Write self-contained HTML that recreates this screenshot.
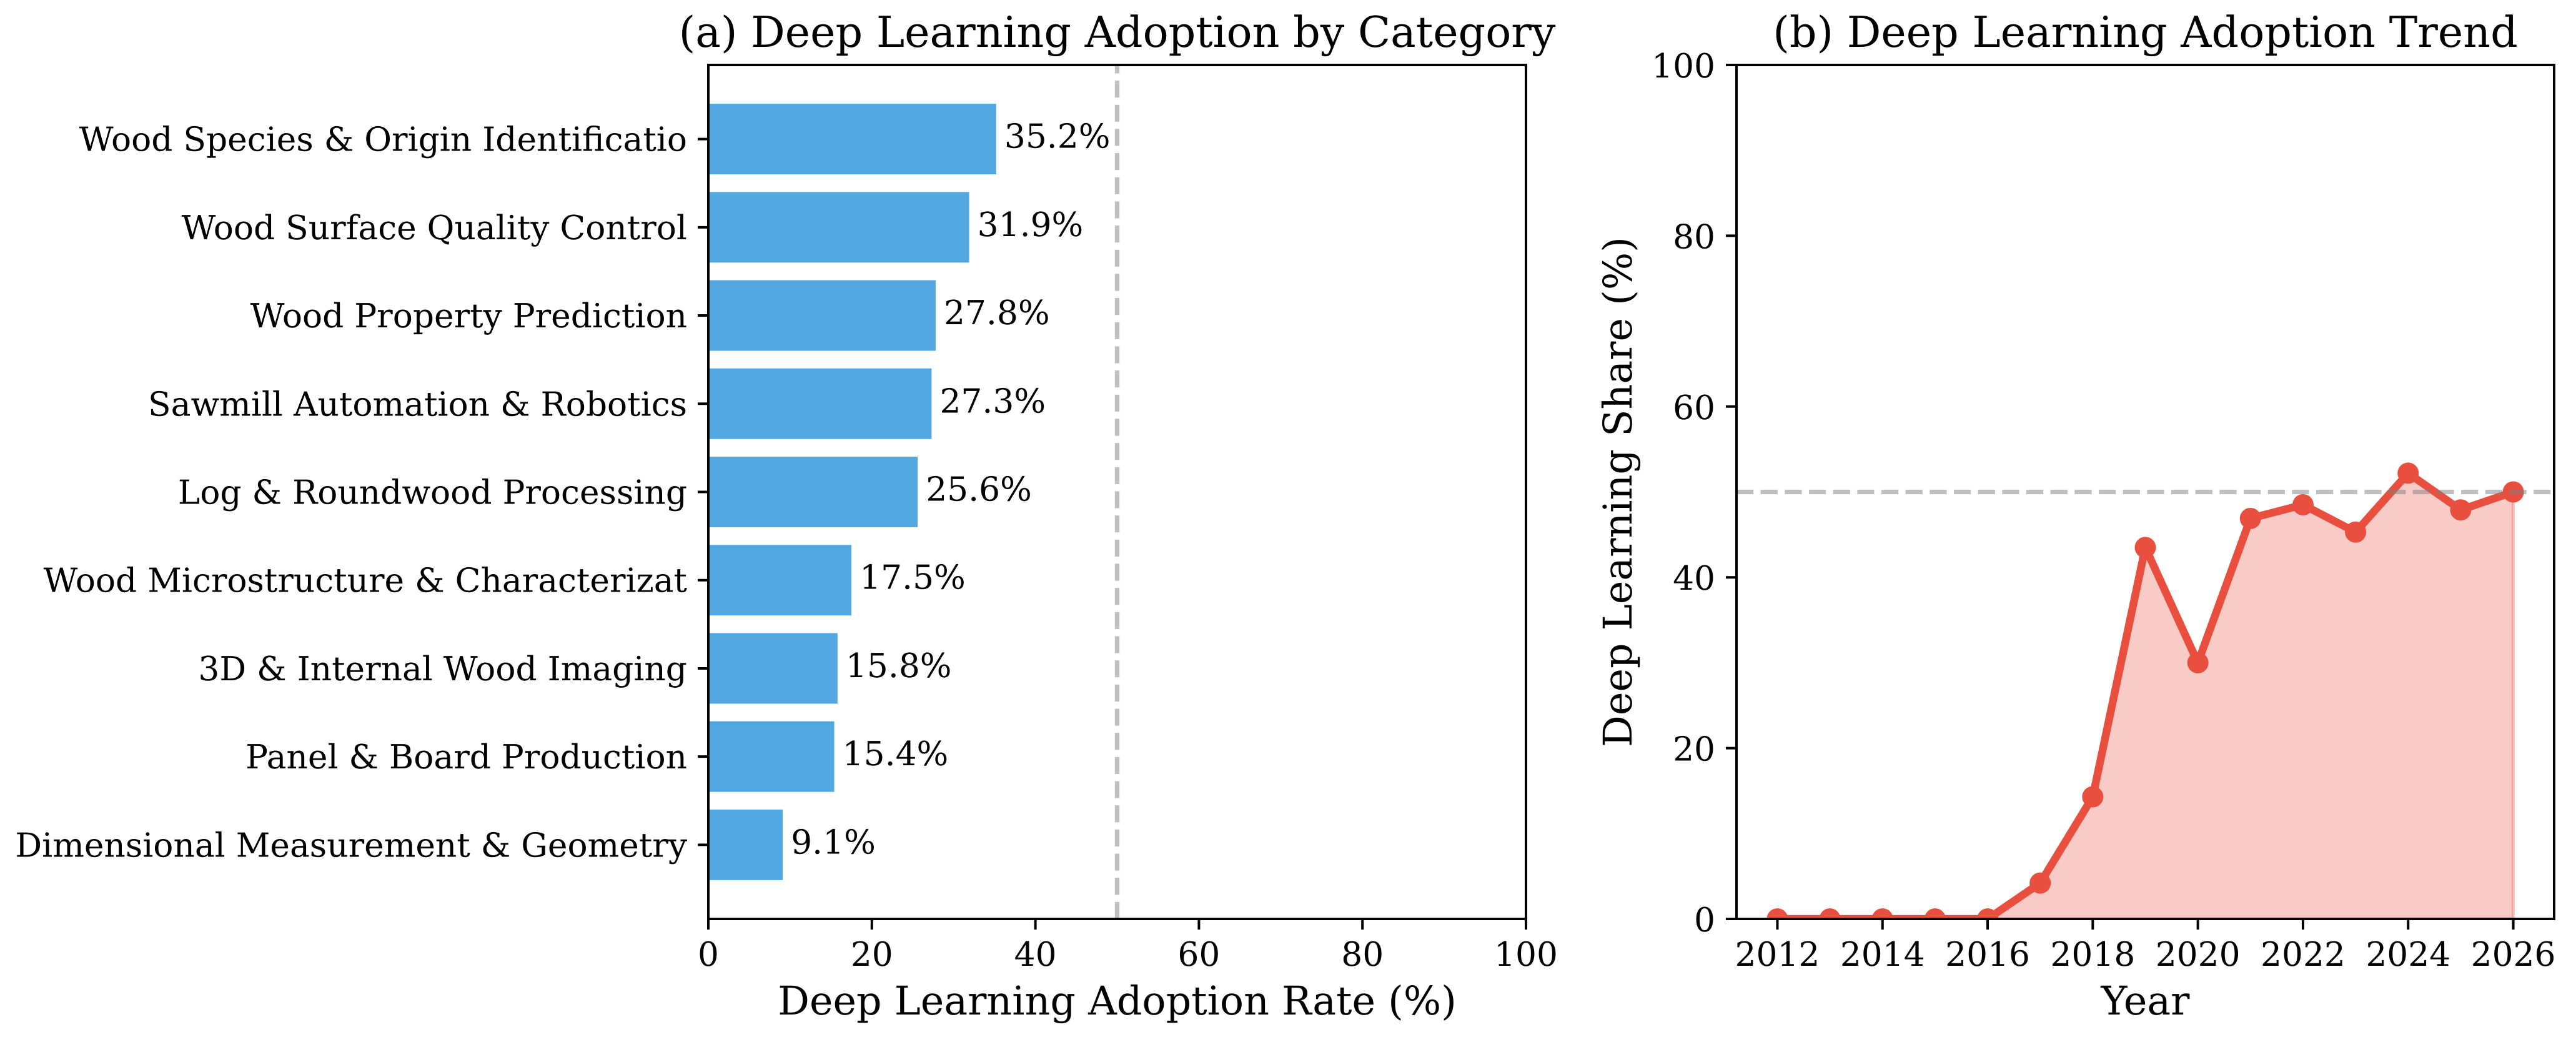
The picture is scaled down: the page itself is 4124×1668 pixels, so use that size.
<!DOCTYPE html>
<html lang="en">
<head>
<meta charset="utf-8">
<title>Deep Learning Adoption</title>
<style>
html,body{margin:0;padding:0;background:#fff;width:4124px;height:1668px;overflow:hidden}
svg{display:block}
text{font-family:"DejaVu Serif","Liberation Serif",serif;fill:#000;text-rendering:geometricPrecision}
</style>
</head>
<body>
<svg id="chart" xmlns="http://www.w3.org/2000/svg" width="4124" height="1668" viewBox="0 0 4124 1668"></svg>
<script>
const categories = ["Wood Species & Origin Identificatio","Wood Surface Quality Control","Wood Property Prediction","Sawmill Automation & Robotics","Log & Roundwood Processing","Wood Microstructure & Characterizat","3D & Internal Wood Imaging","Panel & Board Production","Dimensional Measurement & Geometry"];
const adoptionRates = [35.2,31.9,27.8,27.3,25.6,17.5,15.8,15.4,9.1];
const rateTicks = [0,20,40,60,80,100];
const rateThreshold = [50];
const years = [2012,2013,2014,2015,2016,2017,2018,2019,2020,2021,2022,2023,2024,2025,2026];
const dlShare = [0,0,0,0,0,4.2,14.3,43.5,30,46.9,48.5,45.3,52.2,47.9,50];
const yearTicks = [2012,2014,2016,2018,2020,2022,2024,2026];
const shareTicks = [0,20,40,60,80,100];
const shareThreshold = [50];

const NS = "http://www.w3.org/2000/svg";
const svg = document.getElementById("chart");
const TOP = 104, BOTTOM = 1471;
const AL = 1134, AR = 2443, BL = 2780, BR = 4089;
const TICK_FONT = 53.4, LABEL_FONT = 63.4, TITLE_FONT = 68.2, SPINE = 4, TICK_LEN = 17;

const xRate = v => AL + (v / 100) * (AR - AL);
const yCat = i => TOP + ((i + 0.84) / 9.68) * (BOTTOM - TOP);
const barH = 0.8 * (BOTTOM - TOP) / 9.68;
const yearSpan = years[years.length - 1] - years[0];
const xYear = y => BL + (BR - BL) * (0.05 + 0.9 * (y - years[0]) / yearSpan);
const yShare = v => BOTTOM - (v / 100) * (BOTTOM - TOP);

function el(tag, attrs, parent, txt) {
  const e = document.createElementNS(NS, tag);
  for (const k in attrs) e.setAttribute(k, attrs[k]);
  if (txt !== undefined) e.textContent = txt;
  (parent || svg).appendChild(e);
  return e;
}
function label(x, y, s, size, anchor, parent) {
  return el("text", {x: x, y: y, "font-size": size, "text-anchor": anchor}, parent, s);
}

const defs = el("defs", {});
const clip = el("clipPath", {id: "clip-b"}, defs);
el("rect", {x: BL, y: TOP, width: BR - BL, height: BOTTOM - TOP}, clip);

/* ---------- Panel (a) ---------- */
const panelA = el("g", {});



adoptionRates.forEach((v, i) => {
  const bar = el("rect", {x: xRate(0), y: yCat(i) - barH / 2, width: xRate(v) - xRate(0), height: barH, fill: "#52a7e0"}, panelA);
  
  
});

rateThreshold.forEach(v => {
  const line = el("line", {x1: xRate(v), x2: xRate(v), y1: BOTTOM, y2: TOP, stroke: "#808080", "stroke-opacity": 0.5, "stroke-width": 7.3, "stroke-dasharray": "27.2 11.47"}, panelA);
  
  
});

adoptionRates.forEach((v, i) => {
  const t = label(xRate(v + 1), yCat(i) + 14, v.toFixed(1) + "%", TICK_FONT, "start", panelA);
  
  
});

categories.forEach((c, i) => {
  const tick = el("line", {x1: AL - TICK_LEN, x2: AL, y1: yCat(i), y2: yCat(i), stroke: "#000", "stroke-width": SPINE}, panelA);
  
  
  const t = label(AL - 34, yCat(i) + 19, c, TICK_FONT, "end", panelA);
  
  
});

rateTicks.forEach(v => {
  const tick = el("line", {x1: xRate(v), x2: xRate(v), y1: BOTTOM, y2: BOTTOM + TICK_LEN, stroke: "#000", "stroke-width": SPINE}, panelA);
  
  
  const t = label(xRate(v), 1546, String(v), TICK_FONT, "middle", panelA);
  
  
});

const frameA = el("rect", {x: AL, y: TOP, width: AR - AL, height: BOTTOM - TOP, fill: "none", stroke: "#000", "stroke-width": SPINE}, panelA);



const titleA = label((AL + AR) / 2, 75, "(a) Deep Learning Adoption by Category", TITLE_FONT, "middle", panelA);



const xLabelA = label((AL + AR) / 2, 1624, "Deep Learning Adoption Rate (%)", LABEL_FONT, "middle", panelA);



/* ---------- Panel (b) ---------- */
const panelB = el("g", {});



const plotB = el("g", {"clip-path": "url(#clip-b)"}, panelB);



const pts = years.map((y, i) => xYear(y).toFixed(2) + "," + yShare(dlShare[i]).toFixed(2));
const areaPts = xYear(years[0]).toFixed(2) + "," + yShare(0) + " " + pts.join(" ") + " " + xYear(years[years.length - 1]).toFixed(2) + "," + yShare(0);

const area = el("polygon", {points: areaPts, fill: "#e74c3c", "fill-opacity": 0.29, stroke: "#e74c3c", "stroke-opacity": 0.3, "stroke-width": 5}, plotB);



const trend = el("polyline", {points: pts.join(" "), fill: "none", stroke: "#e94f3e", "stroke-width": 12.5, "stroke-linejoin": "round"}, plotB);



years.forEach((y, i) => {
  const dot = el("circle", {cx: xYear(y), cy: yShare(dlShare[i]), r: 17, fill: "#e94f3e"}, plotB);
  
  
});

shareThreshold.forEach(v => {
  const line = el("line", {x1: BL, x2: BR, y1: yShare(v), y2: yShare(v), stroke: "#808080", "stroke-opacity": 0.5, "stroke-width": 7.3, "stroke-dasharray": "27.2 11.47"}, panelB);
  
  
});

yearTicks.forEach(y => {
  const tick = el("line", {x1: xYear(y), x2: xYear(y), y1: BOTTOM, y2: BOTTOM + TICK_LEN, stroke: "#000", "stroke-width": SPINE}, panelB);
  
  
  const t = label(xYear(y), 1546, String(y), TICK_FONT, "middle", panelB);
  
  
});

shareTicks.forEach(v => {
  const tick = el("line", {x1: BL - TICK_LEN, x2: BL, y1: yShare(v), y2: yShare(v), stroke: "#000", "stroke-width": SPINE}, panelB);
  
  
  const t = label(BL - 34, yShare(v) + 20, String(v), TICK_FONT, "end", panelB);
  
  
});

const frameB = el("rect", {x: BL, y: TOP, width: BR - BL, height: BOTTOM - TOP, fill: "none", stroke: "#000", "stroke-width": SPINE}, panelB);



const titleB = label((BL + BR) / 2, 75, "(b) Deep Learning Adoption Trend", TITLE_FONT, "middle", panelB);



const xLabelB = label((BL + BR) / 2, 1624, "Year", LABEL_FONT, "middle", panelB);



const yLabelB = el("text", {x: 0, y: 0, "font-size": LABEL_FONT, "text-anchor": "middle", transform: "translate(2612 " + (TOP + BOTTOM) / 2 + ") rotate(-90)"}, panelB, "Deep Learning Share (%)");


</script>
</body>
</html>
